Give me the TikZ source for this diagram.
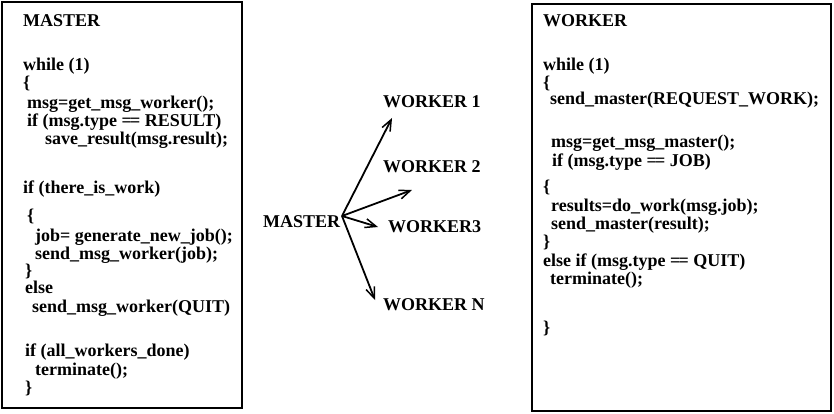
\documentclass[tikz,border=0pt]{standalone}
\usepackage{fontspec}
\setmainfont{Liberation Serif}
\usetikzlibrary{arrows.meta}
\newcommand{\eqeq}{=\kern-0.1em=}
\begin{document}
\begin{tikzpicture}[x=1pt,y=-1pt,
  code/.style={anchor=base west,inner sep=0pt,text height=11pt,text depth=2pt,font=\bfseries\fontsize{18}{18}\selectfont},
  panel/.style={draw,line width=2pt},
  link/.style={line width=1.8pt,-{Straight Barb[length=11pt,width=9pt,line width=1.5pt]}}]
\useasboundingbox (0,0) rectangle (834,414);
% left panel
\draw[panel] (2,2) rectangle (242,408);
\node[code] (m0) at (23,27) {MASTER};
\node[code] (m1) at (23,71) {while (1)};
\node[code] (m2) at (23,89) {\{};
\node[code] (m3) at (27,109) {msg=get\_msg\_worker();};
\node[code] (m4) at (27,127) {if (msg.type \eqeq{} RESULT)};
\node[code] (m5) at (45,145) {save\_result(msg.result);};
\node[code] (m6) at (23,193) {if (there\_is\_work)};
\node[code] (m7) at (27,221) {\{};
\node[code] (m8) at (35,241) {job= generate\_new\_job();};
\node[code] (m9) at (35,259) {send\_msg\_worker(job);};
\node[code] (m10) at (25,276) {\}};
\node[code] (m11) at (25,293) {else};
\node[code] (m12) at (32,312) {send\_msg\_worker(QUIT)};
\node[code] (m13) at (25,356) {if (all\_workers\_done)};
\node[code] (m14) at (35,375) {terminate();};
\node[code] (m15) at (25,393) {\}};
% right panel
\draw[panel] (532,4) rectangle (831,411);
\node[code] (w0) at (543,27) {WORKER};
\node[code] (w1) at (543,71) {while (1)};
\node[code] (w2) at (543,89) {\{};
\node[code] (w3) at (550,105) {send\_master(REQUEST\_WORK);};
\node[code] (w4) at (551,148) {msg=get\_msg\_master();};
\node[code] (w5) at (552,166) {if (msg.type \eqeq{} JOB)};
\node[code] (w6) at (543,192) {\{};
\node[code] (w7) at (551,211) {results=do\_work(msg.job);};
\node[code] (w8) at (551,229) {send\_master(result);};
\node[code] (w9) at (543,247) {\}};
\node[code] (w10) at (543,266) {else if (msg.type \eqeq{} QUIT)};
\node[code] (w11) at (550,284) {terminate();};
\node[code] (w12) at (543,333) {\}};
% middle
\node[code] (master) at (263,227) {MASTER};
\node[code] (k1) at (383,108) {WORKER 1};
\node[code] (k2) at (383,172) {WORKER 2};
\node[code] (k3) at (388,232) {WORKER3};
\node[code] (kn) at (383,310) {WORKER N};
\coordinate (hub) at (342,216);
\coordinate (t1) at (392,118);
\coordinate (t2) at (412,190);
\coordinate (t3) at (378,227);
\coordinate (tn) at (375,300);
\draw[link] (hub) -- (t1);
\draw[link] (hub) -- (t2);
\draw[link] (hub) -- (t3);
\draw[link] (hub) -- (tn);
\end{tikzpicture}
\end{document}
